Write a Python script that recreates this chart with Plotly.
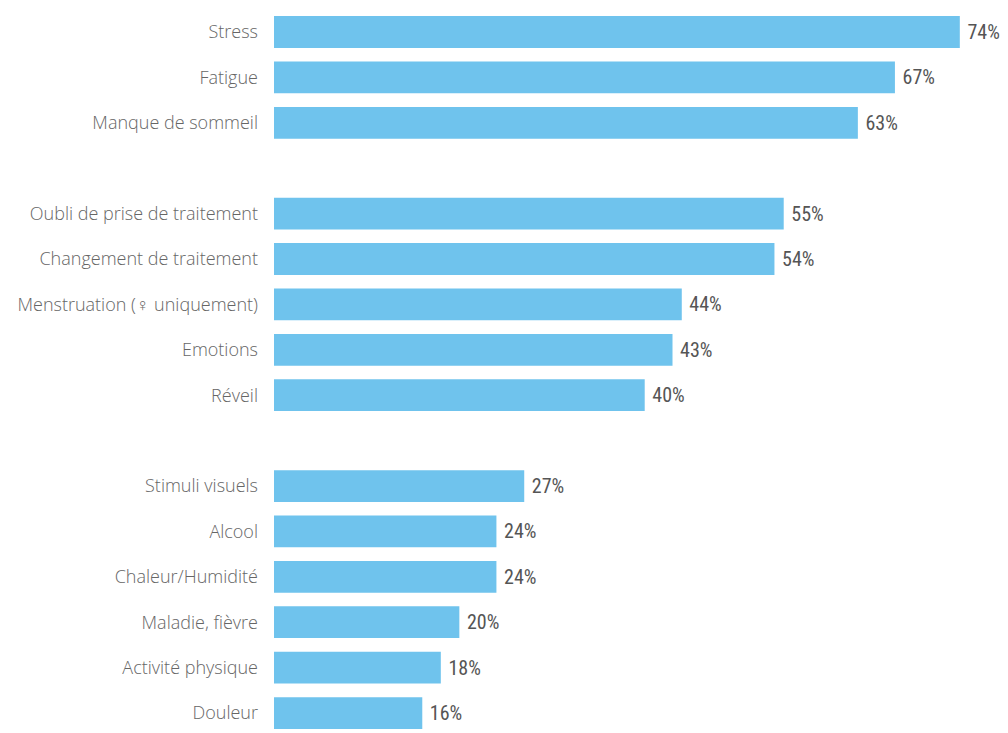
import plotly.graph_objects as go

categories = [
    "Stress", "Fatigue", "Manque de sommeil",
    "Oubli de prise de traitement", "Changement de traitement",
    "Menstruation (♀ uniquement)", "Emotions", "Réveil",
    "Stimuli visuels", "Alcool", "Chaleur/Humidité", "Maladie, fièvre",
    "Activité physique", "Douleur",
]
values = [74, 67, 63, 55, 54, 44, 43, 40, 27, 24, 24, 20, 18, 16]
# group index of each category (three groups separated by an empty slot)
groups = [0, 0, 0, 1, 1, 1, 1, 1, 2, 2, 2, 2, 2, 2]

positions = [i + g for i, g in enumerate(groups)]
labels = [f" {v}%" for v in values]

fig = go.Figure(
    go.Bar(
        x=values,
        y=positions,
        orientation="h",
        width=0.7,
        marker=dict(color="#6fc3ed", line=dict(width=0)),
        text=labels,
        textposition="outside",
        textfont=dict(family="Liberation Sans Narrow, Roboto Condensed, Roboto", size=20, color="#555555"),
        cliponaxis=False,
        hoverinfo="skip",
    )
)

fig.update_layout(
    width=1008,
    height=733,
    margin=dict(l=274, r=0, t=0, b=0),
    paper_bgcolor="white",
    plot_bgcolor="white",
    showlegend=False,
)
fig.update_xaxes(range=[0, 79.2], visible=False)
fig.update_yaxes(
    range=[15.44, -0.705],
    tickvals=positions,
    ticktext=categories,
    tickfont=dict(family="Open Sans", size=18, color="#666666", weight=300),
    showgrid=False,
    zeroline=False,
    showline=False,
    ticks="",
    ticklabelstandoff=15,
)

fig.write_html("out.html")
